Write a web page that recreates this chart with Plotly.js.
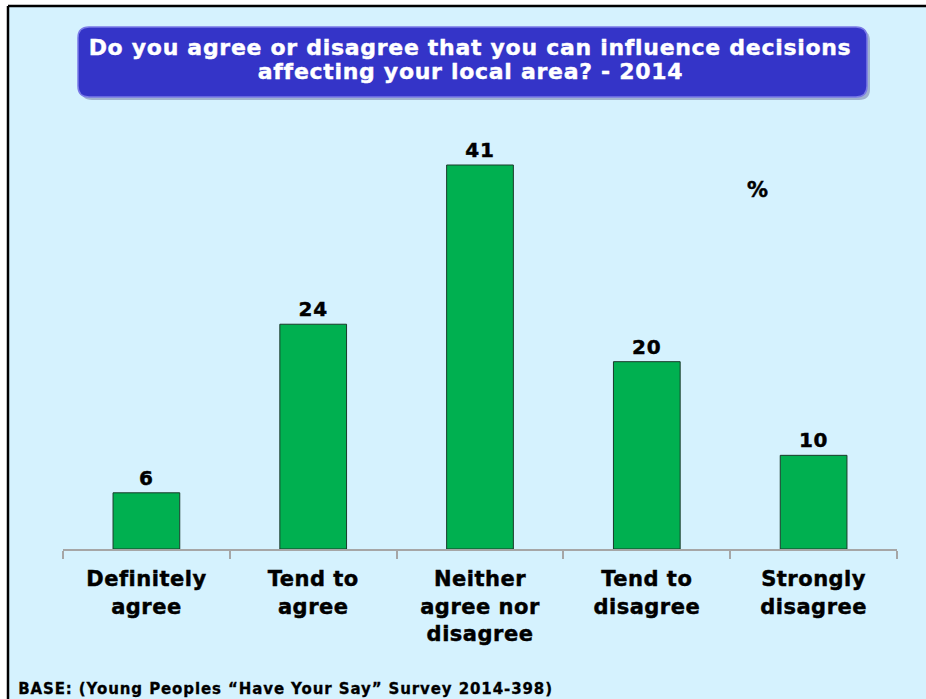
<!DOCTYPE html>
<html>
<head>
<meta charset="utf-8">
<script src="https://cdn.plot.ly/plotly-3.0.1.min.js"></script>
<style>
html,body{margin:0;padding:0;background:#fff;}
#chart{width:926px;height:699px;}
#chart .xtick text{letter-spacing:0.5px;stroke:#000;stroke-width:0.45px;}
#chart .bartext{letter-spacing:0.8px;stroke:#000;stroke-width:0.45px;}
#chart g.annotation[data-index="0"] text,
#chart g.annotation[data-index="1"] text{letter-spacing:0.7px;stroke:#fff;stroke-width:0.4px;}
#chart g.annotation[data-index="2"] text{stroke:#000;stroke-width:0.45px;}
#chart g.annotation[data-index="3"] text{letter-spacing:0.9px;stroke:#000;stroke-width:0.3px;}
</style>
</head>
<body>
<div id="chart"></div>
<script>
const categories = ["Definitely<br>agree", "Tend to<br>agree", "Neither<br>agree nor<br>disagree", "Tend to<br>disagree", "Strongly<br>disagree"];
const values = [6, 24, 41, 20, 10];
const titleLine1 = "Do you agree or disagree that you can influence decisions";
const titleLine2 = "affecting your local area? - 2014";
const unitLabel = "%";
const footnote = "BASE: (Young Peoples \u201cHave Your Say\u201d Survey 2014-398)";

const W = 926, H = 699;
const mL = 63, mR = 29, mT = 115, mB = 150;
const pw = W - mL - mR, ph = H - mT - mB;
const px = x => (x - mL) / pw;
const py = y => (H - mB - y) / ph;

function roundRect(x0, y0, x1, y1, r) {
  const P = (x, y) => px(x).toFixed(5) + "," + py(y).toFixed(5);
  return "M" + P(x0 + r, y0) + " L" + P(x1 - r, y0) + " Q" + P(x1, y0) + " " + P(x1, y0 + r) +
    " L" + P(x1, y1 - r) + " Q" + P(x1, y1) + " " + P(x1 - r, y1) +
    " L" + P(x0 + r, y1) + " Q" + P(x0, y1) + " " + P(x0, y1 - r) +
    " L" + P(x0, y0 + r) + " Q" + P(x0, y0) + " " + P(x0 + r, y0) + " Z";
}

const FONT = "DejaVu Sans, Verdana, sans-serif";

const trace = {
  type: "bar",
  x: categories,
  y: values,
  width: 0.4,
  marker: {color: "#00b050", line: {color: "#1a3a2a", width: 1}},
  text: values.map(String),
  textposition: "outside",
  cliponaxis: false,
  textfont: {family: FONT, size: 20, color: "#000", weight: "bold"},
  hoverinfo: "none"
};

const layout = {
  width: W, height: H,
  margin: {l: mL, r: mR, t: mT, b: mB, pad: 0},
  paper_bgcolor: "#ffffff",
  plot_bgcolor: "rgba(0,0,0,0)",
  showlegend: false,
  xaxis: {
    type: "category",
    showline: true, linecolor: "#a6a6a6", linewidth: 2,
    ticks: "outside", tickson: "boundaries", ticklen: 8, tickcolor: "#a6a6a6", tickwidth: 2,
    ticklabelstandoff: 10,
    tickfont: {family: FONT, size: 21, color: "#000", weight: "bold"},
    showgrid: false, zeroline: false, fixedrange: true
  },
  yaxis: {
    range: [0, ph / (384 / 41)],
    visible: false, showgrid: false, zeroline: false, fixedrange: true
  },
  shapes: [
    {type: "rect", xref: "paper", yref: "paper", x0: px(8), x1: px(W + 5), y0: py(6), y1: py(H + 5),
     fillcolor: "#d5f2fe", line: {width: 0}, layer: "below"},
    {type: "line", xref: "paper", yref: "paper", x0: px(8), x1: px(W + 5), y0: py(6), y1: py(6),
     line: {color: "#000", width: 2.5}},
    {type: "line", xref: "paper", yref: "paper", x0: px(8), x1: px(8), y0: py(6), y1: py(H + 5),
     line: {color: "#000", width: 2.5}},
    {type: "path", xref: "paper", yref: "paper", path: roundRect(81, 30, 870, 100, 11),
     fillcolor: "rgba(60,60,120,0.35)", line: {width: 0}, layer: "below"},
    {type: "path", xref: "paper", yref: "paper", path: roundRect(78, 27, 867, 97, 11),
     fillcolor: "#3434c8", line: {color: "#7a7ae6", width: 1.5}, layer: "below"}
  ],
  annotations: [
    {text: titleLine1, xref: "paper", yref: "paper", x: px(470), y: py(47), xanchor: "center", yanchor: "middle",
     showarrow: false, font: {family: FONT, size: 22, color: "#fff", weight: "bold"}},
    {text: titleLine2, xref: "paper", yref: "paper", x: px(470), y: py(72), xanchor: "center", yanchor: "middle",
     showarrow: false, font: {family: FONT, size: 22, color: "#fff", weight: "bold"}},
    {text: unitLabel, xref: "paper", yref: "paper", x: px(757), y: py(190), xanchor: "center", yanchor: "middle",
     showarrow: false, font: {family: FONT, size: 21, color: "#000", weight: "bold"}},
    {text: footnote, xref: "paper", yref: "paper", x: px(285), y: py(689), xanchor: "center", yanchor: "middle",
     showarrow: false, font: {family: FONT, size: 15, color: "#000", weight: "bold"}}
  ]
};

Plotly.newPlot("chart", [trace], layout, {displayModeBar: false, staticPlot: true});
</script>
</body>
</html>
